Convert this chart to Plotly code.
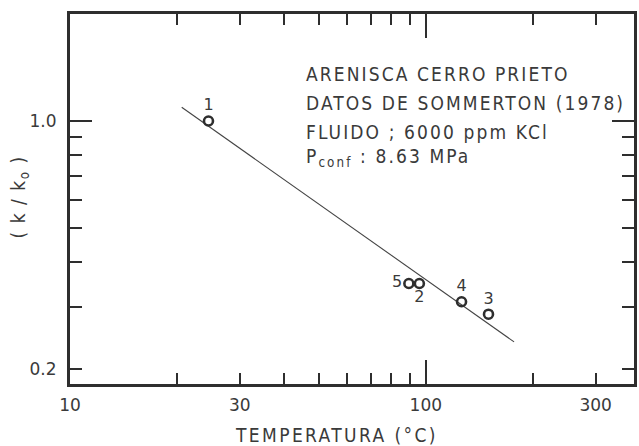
import plotly.graph_objects as go

# ---- data ----
temp = [24.5, 95.9, 150, 126, 89.6]          # temperature (°C)
perm = [1.0, 0.349, 0.286, 0.310, 0.349]     # k/k0
point_labels = ["1", "2", "3", "4", "5"]
label_pos = ["top center", "bottom center", "top center", "top center", "middle left"]

fit_temp = [20.6, 177]
fit_perm = [1.093, 0.239]

x_label_vals = [10, 30, 100, 300]
x_label_text = ["10", "30", "100", "300"]
x_minor_ticks = [20, 30, 40, 50, 60, 70, 80, 90, 200, 300]
x_major_ticks = [100]

y_label_vals = [0.2, 1.0]
y_label_text = ["0.2", "1.0"]
y_minor_ticks = [0.2, 0.3, 0.4, 0.5, 0.6, 0.7, 0.8, 0.9]
y_major_ticks = [1.0]

info_lines = [
    "ARENISCA CERRO PRIETO",
    "DATOS DE SOMMERTON (1978)",
    "FLUIDO ; 6000 ppm KCl",
    "P<sub>conf</sub> : 8.63 MPa",
]
x_title = "TEMPERATURA (°C)"
y_title = "( k / k<sub>o</sub> )"

INK = "#3a3a3a"
LINE = "#2e2e2e"
FONT = "DejaVu Sans"
NARROW = "Liberation Sans Narrow, DejaVu Sans Condensed, DejaVu Sans"

fig = go.Figure()

fig.add_trace(go.Scatter(
    x=fit_temp, y=fit_perm, mode="lines",
    line=dict(color="#444444", width=1.1),
    hoverinfo="skip", showlegend=False))

fig.add_trace(go.Scatter(
    x=temp, y=perm, mode="markers+text",
    text=point_labels, textposition=label_pos,
    textfont=dict(family=FONT, size=16, color=INK),
    marker=dict(symbol="circle-open", size=9, color=LINE, line=dict(width=2.6, color=LINE)),
    showlegend=False))

# invisible trace so the overlay axes (long ticks) are drawn
fig.add_trace(go.Scatter(
    x=[x_major_ticks[0]], y=[y_major_ticks[0]], xaxis="x2", yaxis="y2",
    mode="markers", marker=dict(opacity=0), hoverinfo="skip", showlegend=False))

axis_font = dict(family=FONT, size=17, color=INK)

fig.update_layout(
    width=639, height=446,
    margin=dict(l=70, r=2, t=14, b=62),
    paper_bgcolor="white", plot_bgcolor="white",
    xaxis=dict(
        type="log", range=[1.0, 2.585],
        tickvals=x_label_vals, ticktext=x_label_text,
        ticks="", tickfont=axis_font, ticklabelstandoff=4,
        showgrid=False, zeroline=False,
        showline=True, linewidth=3, linecolor=LINE, mirror="allticks",
        minor=dict(tickvals=x_minor_ticks, ticks="inside", ticklen=11,
                   tickwidth=1.5, tickcolor=LINE, showgrid=False),
    ),
    yaxis=dict(
        type="log", range=[-0.740, 0.301],
        tickvals=y_label_vals, ticktext=y_label_text,
        ticks="", tickfont=axis_font, ticklabelstandoff=7,
        showgrid=False, zeroline=False,
        showline=True, linewidth=3, linecolor=LINE, mirror="allticks",
        minor=dict(tickvals=y_minor_ticks, ticks="inside", ticklen=12,
                   tickwidth=1.5, tickcolor=LINE, showgrid=False),
    ),
    xaxis2=dict(
        type="log", overlaying="x", matches="x", anchor="y",
        tickvals=x_major_ticks, ticks="inside", ticklen=24, tickwidth=1.5,
        tickcolor=LINE, showticklabels=False, showgrid=False, zeroline=False,
        showline=False, mirror="allticks"),
    yaxis2=dict(
        type="log", overlaying="y", matches="y", anchor="x",
        tickvals=y_major_ticks, ticks="inside", ticklen=22, tickwidth=1.5,
        tickcolor=LINE, showticklabels=False, showgrid=False, zeroline=False,
        showline=False, mirror="allticks"),
)

# axis titles as annotations for exact placement
fig.add_annotation(
    xref="paper", yref="paper", x=0.473, y=-0.138,
    xanchor="center", yanchor="middle", showarrow=False,
    text=f'<span style="letter-spacing:2.4px">{x_title}</span>',
    font=dict(family=NARROW, size=19, color=INK))
fig.add_annotation(
    xref="paper", yref="paper", x=-0.09, y=0.505, textangle=-90,
    xanchor="center", yanchor="middle", showarrow=False,
    text=f'<span style="letter-spacing:1.5px">{y_title}</span>',
    font=dict(family=NARROW, size=19, color=INK))

line_y = [0.838, 0.759, 0.681, 0.611]
for txt, yy in zip(info_lines, line_y):
    fig.add_annotation(
        xref="paper", yref="paper", x=0.4145, y=yy,
        xanchor="left", yanchor="middle", showarrow=False,
        text=f'<span style="letter-spacing:2.1px">{txt}</span>',
        font=dict(family=NARROW, size=19, color=INK))

fig.write_html("out.html")
